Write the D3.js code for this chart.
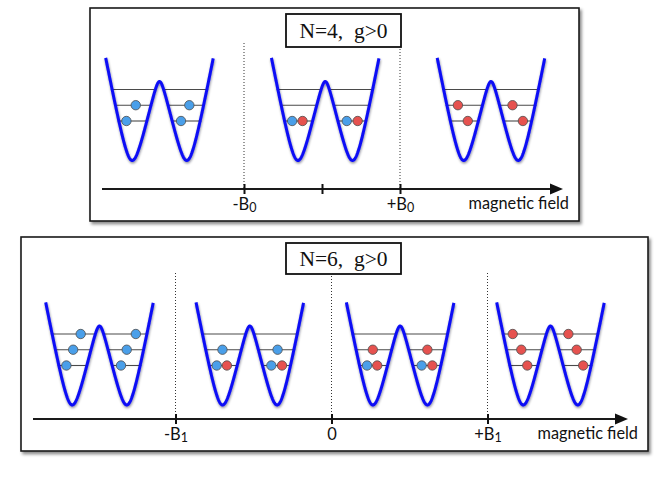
<!DOCTYPE html>
<html>
<head>
<meta charset="utf-8">
<script src="https://cdn.jsdelivr.net/npm/d3@7"></script>
<style>
  html, body { margin: 0; padding: 0; background: #fff; }
  svg { display: block; }
</style>
</head>
<body>
<script>
// ---------------- DATA ----------------
const panelTitles = ["N=4,  g>0", "N=6,  g>0"];
const axisTitle = "magnetic field";

// tick positions on the magnetic-field axis (in units of B0 / B1)
const topTickValues = [-1, 0, 1];
const topTickLabels = [["-B", "0"], ["", ""], ["+B", "0"]];
const botTickValues = [-1, 0, 1];
const botTickLabels = [["-B", "1"], ["0", ""], ["+B", "1"]];
// where each dotted separator sits (field units)
const topDividers = [-1, 1];
const botDividers = [-1, 0, 1];

// energy levels (height above well bottom, potential units)
const levels = [39.5, 55.3, 71];

// balls: side (-1 left well / +1 right well), level index, slot within level, spin colour
const topStates = [
  [{side:-1,lv:0,slot:-1,c:"b"},{side:-1,lv:1,slot:0.8,c:"b"},{side:1,lv:0,slot:-1,c:"b"},{side:1,lv:1,slot:0.6,c:"b"}],
  [{side:-1,lv:0,slot:-1,c:"b"},{side:-1,lv:0,slot:1,c:"r"},{side:1,lv:0,slot:-1,c:"b"},{side:1,lv:0,slot:1.1,c:"r"}],
  [{side:-1,lv:1,slot:-1,c:"r"},{side:-1,lv:0,slot:0.9,c:"r"},{side:1,lv:1,slot:-1,c:"r"},{side:1,lv:0,slot:1,c:"r"}]
];
const botStates = [
  [{side:-1,lv:0,slot:-1,c:"b"},{side:-1,lv:1,slot:0.3,c:"b"},{side:-1,lv:2,slot:1.75,c:"b"},
   {side:1,lv:0,slot:-1,c:"b"},{side:1,lv:1,slot:0.1,c:"b"},{side:1,lv:2,slot:1.85,c:"b"}],
  [{side:-1,lv:0,slot:-1,c:"b"},{side:-1,lv:0,slot:0.95,c:"r"},{side:-1,lv:1,slot:0.1,c:"b"},
   {side:1,lv:0,slot:-1,c:"b"},{side:1,lv:0,slot:1.05,c:"r"},{side:1,lv:1,slot:0.2,c:"b"}],
  [{side:-1,lv:0,slot:-1,c:"b"},{side:-1,lv:0,slot:0.95,c:"r"},{side:-1,lv:1,slot:0.1,c:"r"},
   {side:1,lv:0,slot:-1,c:"b"},{side:1,lv:0,slot:1.05,c:"r"},{side:1,lv:1,slot:0.1,c:"r"}],
  [{side:-1,lv:2,slot:-1.9,c:"r"},{side:-1,lv:1,slot:-0.25,c:"r"},{side:-1,lv:0,slot:0.9,c:"r"},
   {side:1,lv:2,slot:-1.7,c:"r"},{side:1,lv:1,slot:-0.1,c:"r"},{side:1,lv:0,slot:1.15,c:"r"}]
];

// ---------------- SHAPE OF THE DOUBLE WELL ----------------
const X0 = 27.3, R = 7.93, KOUT = 5.2, KIN = 3.854, E = 3.5, UMAX = 53.8, VTOP = 104;
const sNorm = X0 / (Math.sqrt(X0*X0 + E*E) - E);
function pot(x) {
  const ax = Math.abs(x);
  if (ax >= X0) { const t = ax - X0; return KOUT * (Math.sqrt(t*t + R*R) - R); }
  const s = (Math.sqrt(ax*ax + E*E) - E) * sNorm;
  const q = X0 - s;
  return KIN * (Math.sqrt(q*q + R*R) - R);
}
function outerX(en) { const a = en/KOUT + R; return X0 + Math.sqrt(a*a - R*R); }
function innerX(en) {
  const a = en/KIN + R; const q = Math.sqrt(a*a - R*R);
  const s = (X0 - q) / sNorm; return Math.sqrt((s+E)*(s+E) - E*E);
}

// ---------------- LAYOUT ----------------
const W = 664, H = 485;
const panels = [
  { title: panelTitles[0], box:[90,8,579,221], tbox:[286,14,401,47], axisY:189, axisX:[102,563],
    zeroX:322, unit:78, ticks:topTickValues, labels:topTickLabels, dividers:topDividers,
    wellRange:[159.5,491], wellBottom:160.5, states:topStates, labelDy:20.5, fieldLabelX:569 },
  { title: panelTitles[1], box:[21,237,648,451], tbox:[286,243,401,274], axisY:419, axisX:[33,628],
    zeroX:331.5, unit:156, ticks:botTickValues, labels:botTickLabels, dividers:botDividers,
    wellRange:[99.5,550.5], wellBottom:405, states:botStates, labelDy:20.5, fieldLabelX:638 }
];

const svg = d3.select("body").append("svg").attr("width", W).attr("height", H);
const defs = svg.append("defs");
const sh = defs.append("filter").attr("id","boxShadow").attr("x","-5%").attr("y","-5%").attr("width","115%").attr("height","120%");
sh.append("feDropShadow").attr("dx",2).attr("dy",2.5).attr("stdDeviation",1.8).attr("flood-color","#000").attr("flood-opacity",0.45);
const gl = defs.append("filter").attr("id","wellGlow").attr("x","-20%").attr("y","-20%").attr("width","140%").attr("height","140%");
gl.append("feDropShadow").attr("dx",0.5).attr("dy",1.5).attr("stdDeviation",1.3).attr("flood-color","#000020").attr("flood-opacity",0.45);

const slotScale = d3.scaleLinear().domain([-1, 1]).range([-5.8, 4.6]);
const colors = { b: "#4a9fe9", r: "#e6524f" };

panels.forEach(p => {
  const g = svg.append("g");
  // panel box
  g.append("rect").attr("x", p.box[0]).attr("y", p.box[1])
    .attr("width", p.box[2]-p.box[0]).attr("height", p.box[3]-p.box[1])
    .attr("fill", "#fff").attr("stroke", "#1a1a1a").attr("stroke-width", 1.6)
    .attr("filter", "url(#boxShadow)");

  const field = d3.scaleLinear().domain([-1, 1]).range([p.zeroX - p.unit, p.zeroX + p.unit]);

  // dotted separators
  g.selectAll("line.div").data(p.dividers).join("line").attr("class","div")
    .attr("x1", d => field(d)).attr("x2", d => field(d))
    .attr("y1", p.axisY - 146).attr("y2", p.axisY)
    .attr("stroke", "#333").attr("stroke-width", 1).attr("stroke-dasharray", "1,2");

  // wells
  const statePos = d3.scalePoint().domain(d3.range(p.states.length)).range(p.wellRange);
  const yE = d3.scaleLinear().domain([0, VTOP]).range([p.wellBottom, p.wellBottom - VTOP]);
  const curvePts = d3.range(-UMAX, UMAX + 0.001, 0.5);

  p.states.forEach((balls, i) => {
    const cx = statePos(i);
    const xW = d3.scaleLinear().domain([-UMAX, UMAX]).range([cx - UMAX, cx + UMAX]);
    const sg = g.append("g");
    // energy levels
    levels.forEach(en => {
      const xo = outerX(en) + 1.2, xi = innerX(en) - 0.5;
      [[-xo, -xi], [xi, xo]].forEach(seg => {
        sg.append("line").attr("x1", xW(seg[0])).attr("x2", xW(seg[1]))
          .attr("y1", yE(en)).attr("y2", yE(en))
          .attr("stroke", "#4a4a4a").attr("stroke-width", 1.1);
      });
    });
    // potential curve
    const line = d3.line().x(u => xW(u)).y(u => yE(pot(u))).curve(d3.curveLinear);
    sg.append("path").attr("d", line(curvePts)).attr("fill", "none")
      .attr("stroke", "#0a0cf5").attr("stroke-width", 3).attr("stroke-linejoin","round")
      .attr("filter", "url(#wellGlow)");
    // particles
    sg.selectAll("circle").data(balls).join("circle")
      .attr("cx", d => xW(d.side * X0 + slotScale(d.slot)))
      .attr("cy", d => yE(levels[d.lv]))
      .attr("r", 4.7)
      .attr("fill", d => colors[d.c])
      .attr("stroke", "#4d4d4d").attr("stroke-width", 0.8);
  });

  // axis line + arrow
  g.append("line").attr("x1", p.axisX[0]).attr("x2", p.axisX[1] - 8)
    .attr("y1", p.axisY).attr("y2", p.axisY).attr("stroke", "#1a1a1a").attr("stroke-width", 2);
  const ax = p.axisX[1];
  g.append("path").attr("d", `M${ax},${p.axisY} L${ax-13},${p.axisY-5.5} L${ax-13},${p.axisY+5.5} Z`)
    .attr("fill", "#111");

  // ticks via d3 axis
  const axisG = g.append("g").attr("transform", `translate(0,${p.axisY})`)
    .call(d3.axisBottom(field).tickValues(p.ticks).tickSize(5).tickFormat(""));
  axisG.select(".domain").remove();
  axisG.selectAll(".tick line").attr("y1", -5).attr("y2", 5).attr("stroke", "#111").attr("stroke-width", 2);
  axisG.selectAll(".tick text").each(function(d, i) {
    const t = d3.select(this).attr("y", p.labelDy).attr("dy", null)
      .attr("fill", "#111").attr("font-family", "Lato, sans-serif").attr("font-size", 16.5)
      .attr("text-anchor", "middle");
    t.text(null);
    const lab = p.labels[i];
    t.append("tspan").text(lab[0]);
    if (lab[1]) t.append("tspan").attr("font-size", 12.5).attr("dy", 2).text(lab[1]);
  });

  // axis title
  g.append("text").attr("x", p.fieldLabelX).attr("y", p.axisY + p.labelDy - 0.5)
    .attr("text-anchor", "end").attr("font-family", "Lato, sans-serif").attr("font-size", 16.3)
    .attr("fill", "#111").text(axisTitle);

  // title box
  g.append("rect").attr("x", p.tbox[0]).attr("y", p.tbox[1])
    .attr("width", p.tbox[2]-p.tbox[0]).attr("height", p.tbox[3]-p.tbox[1])
    .attr("fill", "#fff").attr("stroke", "#111").attr("stroke-width", 1.8);
  g.append("text").attr("x", (p.tbox[0]+p.tbox[2])/2).attr("y", (p.tbox[1]+p.tbox[3])/2 + 7.3)
    .attr("text-anchor", "middle").attr("font-family", "'Liberation Serif', 'DejaVu Serif', serif")
    .attr("font-size", 21.5).attr("fill", "#111").style("white-space", "pre").text(p.title);
});
</script>
</body>
</html>
